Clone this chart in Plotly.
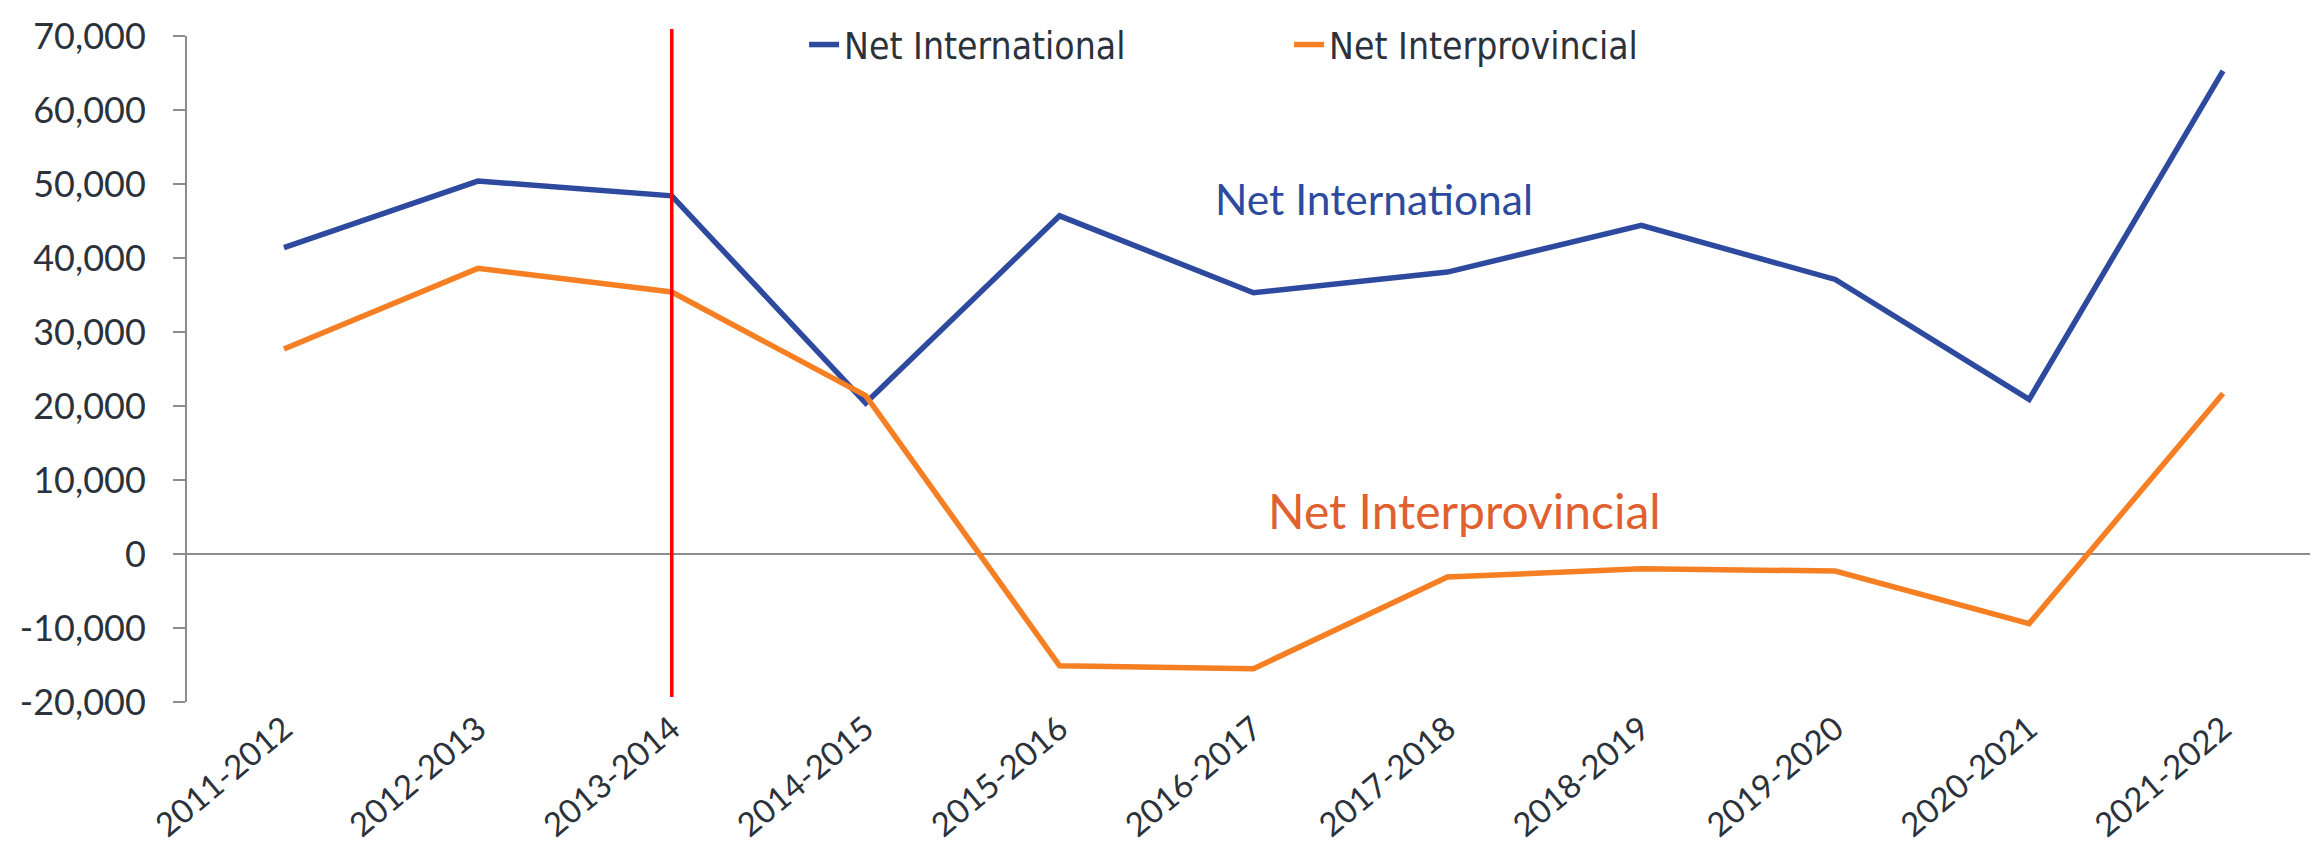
import plotly.graph_objects as go

# Migration net flows by fiscal year
years = ["2011-2012", "2012-2013", "2013-2014", "2014-2015", "2015-2016", "2016-2017",
         "2017-2018", "2018-2019", "2019-2020", "2020-2021", "2021-2022"]
net_international = [41400, 50400, 48400, 20400, 45700, 35300, 38100, 44400, 37100, 20900, 65300]
net_interprovincial = [27700, 38600, 35400, 21400, -15100, -15500, -3100, -2000, -2300, -9400, 21700]

y_ticks = [-20000, -10000, 0, 10000, 20000, 30000, 40000, 50000, 60000, 70000]
y_tick_labels = ["-20,000", "-10,000", "0", "10,000", "20,000", "30,000",
                 "40,000", "50,000", "60,000", "70,000"]

marker_year = "2013-2014"

blue = "#2E4A9F"
orange = "#F57F22"
text_col = "#2B323B"
axis_col = "#8C8C8C"

fig = go.Figure()
fig.add_trace(go.Scatter(x=years, y=net_international, mode="lines", name="Net International",
                         line=dict(color=blue, width=5.5)))
fig.add_trace(go.Scatter(x=years, y=net_interprovincial, mode="lines", name="Net Interprovincial",
                         line=dict(color=orange, width=5.5)))

# vertical red marker line
fig.add_shape(type="line", xref="x", yref="paper",
              x0=years.index(marker_year), x1=years.index(marker_year),
              y0=0.0075, y1=1.0105, line=dict(color="#FF0000", width=3.5))

# in-plot labels
fig.add_annotation(x=5.62, y=48100, text="Net International", showarrow=False,
                   font=dict(family="Lato", size=42.5, color="#2E4A9E"), xanchor="center", yanchor="middle")
fig.add_annotation(x=6.09, y=5900, text="Net Interprovincial", showarrow=False,
                   font=dict(family="Lato", size=48, color="#E0602F"), xanchor="center", yanchor="middle")

fig.update_layout(
    width=2318, height=848, autosize=False,
    margin=dict(l=179, r=6, t=26, b=154),
    plot_bgcolor="white", paper_bgcolor="white",
    showlegend=True,
    legend=dict(orientation="h", x=0.2893, xanchor="left", y=0.9865, yanchor="middle",
                font=dict(family="DejaVu Sans Condensed, Liberation Sans Narrow, DejaVu Sans",
                          size=37, color=text_col),
                bgcolor="rgba(0,0,0,0)", entrywidth=440, entrywidthmode="pixels",
                itemwidth=30),
    font=dict(family="Lato", color=text_col),
)

fig.update_xaxes(type="category", range=[-0.5, 10.5], showgrid=False, showline=False,
                 zeroline=False, ticks="", tickangle=-40, automargin=False,
                 tickfont=dict(family="Lato", size=33, color=text_col),
                 ticklabelstandoff=0)
fig.update_yaxes(range=[-20000, 70000], tickvals=y_ticks, ticktext=y_tick_labels,
                 showgrid=False, showline=True, linecolor=axis_col, linewidth=2,
                 ticks="outside", ticklen=12, tickcolor=axis_col, tickwidth=2,
                 zeroline=True, zerolinecolor=axis_col, zerolinewidth=2, automargin=False,
                 tickfont=dict(family="Lato", size=36, color=text_col),
                 ticklabelstandoff=20)

fig.write_html("out.html")
